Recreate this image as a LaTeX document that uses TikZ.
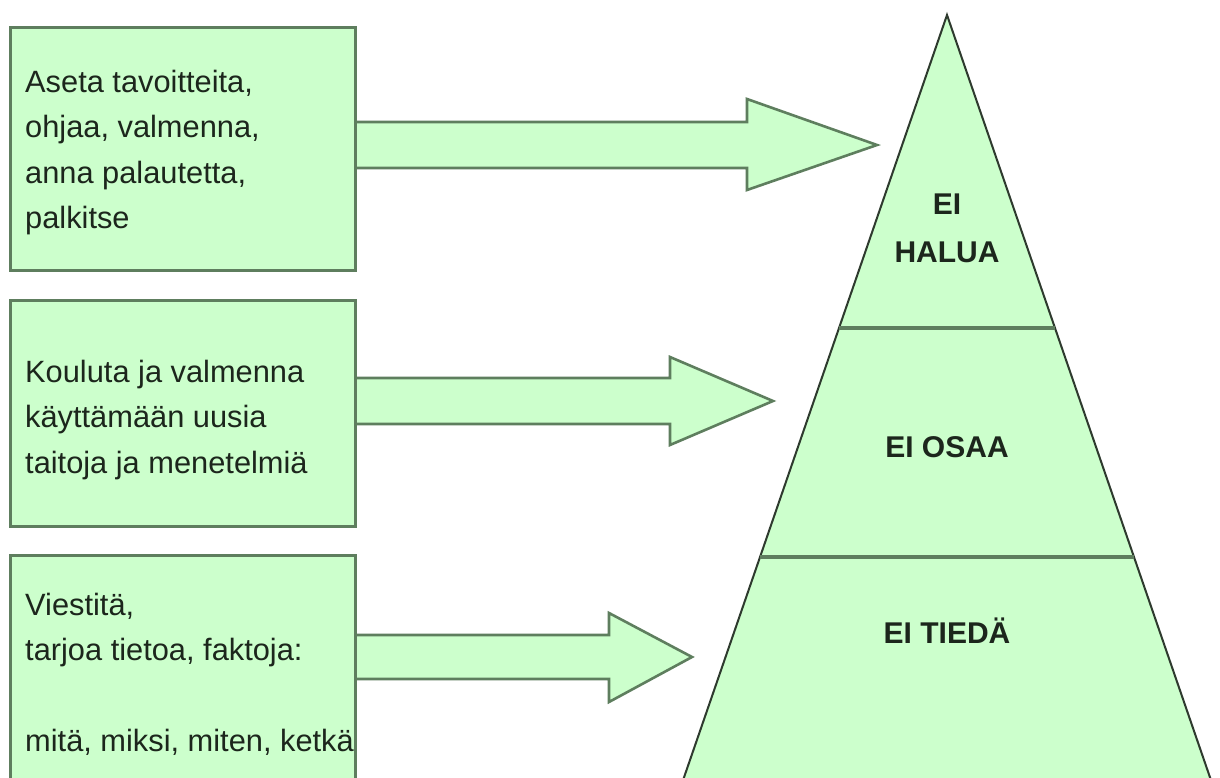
\documentclass[tikz,border=0pt]{standalone}
\usepackage{fontspec}
\setmainfont{Liberation Sans}
\usetikzlibrary{calc}
\definecolor{fillg}{HTML}{CCFFCC}
\definecolor{edgeg}{HTML}{5E7E5E}
\definecolor{txtc}{HTML}{1C261C}
\definecolor{tric}{HTML}{2E3A2E}
\begin{document}
\begin{tikzpicture}[x=1pt,y=-1pt,
  boxnode/.style={draw=edgeg, fill=fillg, line width=3pt, outer sep=0pt, inner sep=0pt, minimum width=345pt},
  boxtext/.style={align=left, inner sep=0pt, anchor=north west, text=txtc, font=\fontsize{30.8}{45.5}\selectfont},
  arrowfill/.style={fill=fillg},
  arrowline/.style={draw=edgeg, line width=2.6pt, line join=miter},
  divider/.style={draw=edgeg, line width=3.5pt},
  pyrtext/.style={align=center, inner sep=0pt, text=txtc, font=\bfseries\fontsize{30}{48}\selectfont}]
\useasboundingbox (0,0) rectangle (1220,778);
\clip (0,0) rectangle (1220,778);
\fill[white] (0,0) rectangle (1220,778);

% helper coordinates for arrow centre lines
\coordinate (y1) at (0,145);
\coordinate (y2) at (0,401);
\coordinate (y3) at (0,657);
\coordinate (a1) at (355,145);
\coordinate (a2) at (355,401);
\coordinate (a3) at (355,657);

% block arrows
\fill[arrowfill] ($(a1)+(0,-23)$) -- (747,122) -- (747,99) -- (877,145) -- (747,190) -- (747,168) -- ($(a1)+(0,23)$) -- cycle;
\draw[arrowline] ($(a1)+(0,-23)$) -- (747,122) -- (747,99) -- (877,145) -- (747,190) -- (747,168) -- ($(a1)+(0,23)$);

\fill[arrowfill] ($(a2)+(0,-23)$) -- (670,378) -- (670,357) -- (773,401) -- (670,445) -- (670,424) -- ($(a2)+(0,23)$) -- cycle;
\draw[arrowline] ($(a2)+(0,-23)$) -- (670,378) -- (670,357) -- (773,401) -- (670,445) -- (670,424) -- ($(a2)+(0,23)$);

\fill[arrowfill] ($(a3)+(0,-22)$) -- (609,635) -- (609,613) -- (692,657) -- (609,702) -- (609,679) -- ($(a3)+(0,22)$) -- cycle;
\draw[arrowline] ($(a3)+(0,-22)$) -- (609,635) -- (609,613) -- (692,657) -- (609,702) -- (609,679) -- ($(a3)+(0,22)$);

% boxes
\node[boxnode, minimum height=242pt] (b1) at (182.5,149) {};
\node[boxnode, minimum height=226pt] (b2) at (182.5,413) {};
\node[boxnode, minimum height=236pt] (b3) at (182.5,673) {};

\node[boxtext] (t1) at (25,69.5) {Aseta tavoitteita,\\ohjaa, valmenna,\\anna palautetta,\\palkitse};
\node[boxtext] (t2) at (25,359.5) {Kouluta ja valmenna\\käyttämään uusia\\taitoja ja menetelmiä};
\node[boxtext] (t3) at (25,592.5) {Viestitä,\\tarjoa tietoa, faktoja:\\[45.5pt]mitä, miksi, miten, ketkä};

% pyramid
\coordinate (apex) at (947,15);
\coordinate (bl) at (676.2,800);
\coordinate (br) at (1217.8,800);
\filldraw[fill=fillg, draw=tric, line width=2pt, line join=miter] (apex) -- (br) -- (bl) -- cycle;
\draw[divider] ($(apex)!0.3987!(bl)$) -- ($(apex)!0.3987!(br)$);
\draw[divider] ($(apex)!0.6904!(bl)$) -- ($(apex)!0.6904!(br)$);

\node[pyrtext, anchor=north] (halua) at (947,193.5) {EI\\HALUA};
\node[pyrtext, anchor=base] (osaa) at (947,457) {EI OSAA};
\node[pyrtext, anchor=base] (tieda) at (947,643) {EI TIEDÄ};
\end{tikzpicture}
\end{document}
